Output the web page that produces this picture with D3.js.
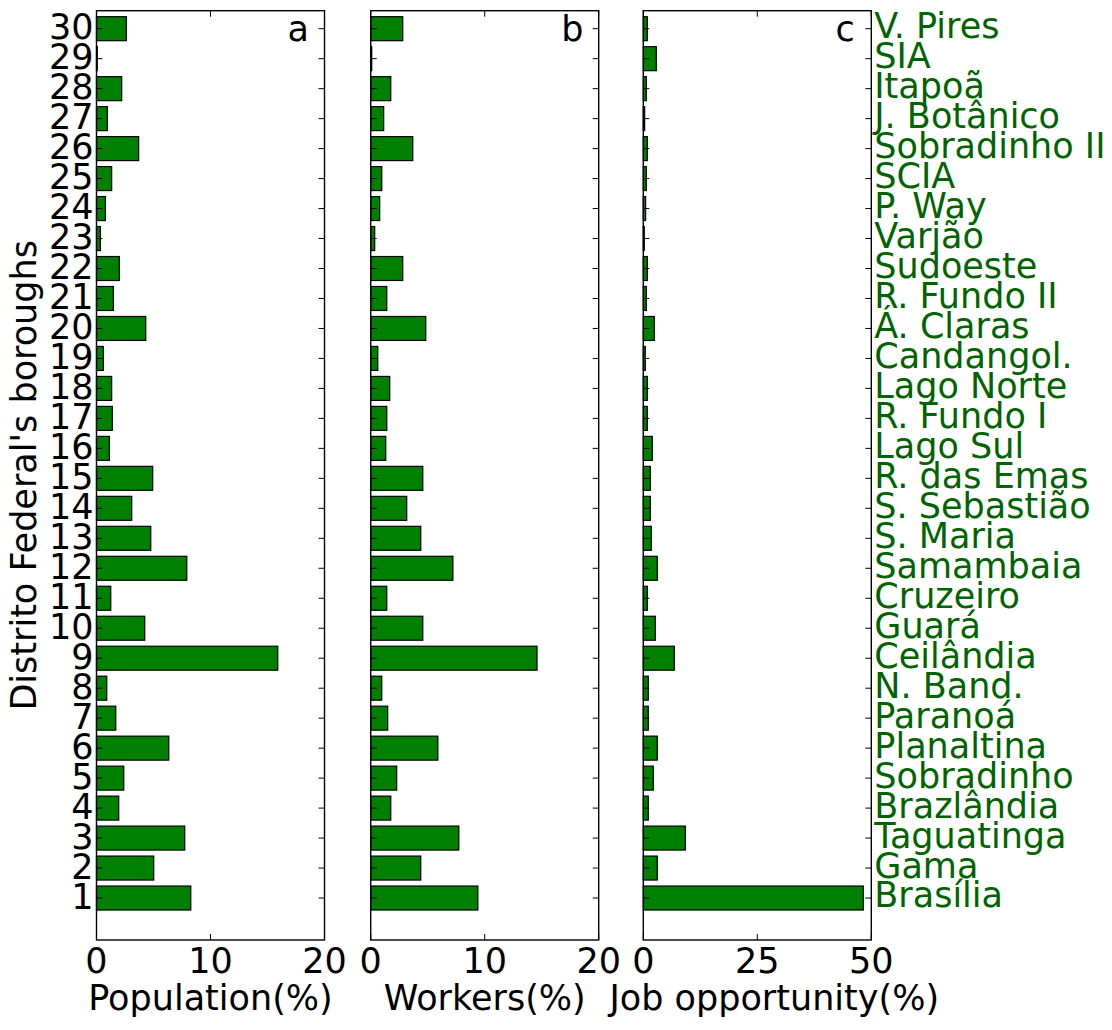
<!DOCTYPE html>
<html><head><meta charset="utf-8">
<script src="https://cdn.jsdelivr.net/npm/d3@7"></script>
<style>body{margin:0;background:#fff}svg{display:block}text{font-family:"DejaVu Sans",sans-serif}</style>
</head><body><svg id="c" width="1112" height="1030"></svg>
<script>
const boroughIds = d3.range(1, 31);
const boroughNames = ["Brasília","Gama","Taguatinga","Brazlândia","Sobradinho","Planaltina","Paranoá","N. Band.","Ceilândia","Guará","Cruzeiro","Samambaia","S. Maria","S. Sebastião","R. das Emas","Lago Sul","R. Fundo I","Lago Norte","Candangol.","Á. Claras","R. Fundo II","Sudoeste","Varjão","P. Way","SCIA","Sobradinho II","J. Botânico","Itapoã","SIA","V. Pires"];
const population = [8.27,5.02,7.74,1.95,2.39,6.34,1.69,0.9,15.9,4.23,1.25,7.92,4.76,3.09,4.93,1.13,1.39,1.33,0.6,4.32,1.48,2.0,0.34,0.78,1.33,3.7,0.95,2.21,0.07,2.62];
const workers = [9.4,4.39,7.73,1.76,2.28,5.89,1.49,0.97,14.59,4.57,1.41,7.21,4.39,3.16,4.57,1.32,1.41,1.67,0.62,4.83,1.41,2.81,0.35,0.79,0.97,3.69,1.14,1.76,0.09,2.81];
const jobs = [48.25,3.07,9.21,1.1,2.19,3.07,1.1,1.1,6.8,2.63,0.88,3.07,1.75,1.54,1.54,1.97,0.88,0.88,0.44,2.41,0.66,0.88,0.22,0.51,0.66,0.88,0.3,0.66,2.85,0.88];
const panelLetters = ["a","b","c"];
const xLabels = ["Population(%)","Workers(%)","Job opportunity(%)"];
const xMax = [20, 20, 50];
const xTicks = [[0,10,20],[0,10,20],[0,25,50]];
const yLabel = "Distrito Federal's boroughs";
const series = [population, workers, jobs];

(function(){
const svg = d3.select("#c");
const plotTop = 10.7, plotBottom = 940;
const panelLeft = [96.5, 370.7, 643.3];
const panelW = 228;
const labelShift = [0, 0, 17];
const y = d3.scaleLinear().domain([-0.4, 30.6]).range([plotBottom, plotTop]);
const barH = Math.abs(y(0.8) - y(0));
const FS = 35;

series.forEach((vals, p) => {
  const x = d3.scaleLinear().domain([0, xMax[p]]).range([panelLeft[p], panelLeft[p] + panelW]);
  const g = svg.append("g");
  g.selectAll("rect.bar").data(boroughIds).join("rect")
    .attr("class","bar")
    .attr("x", x(0))
    .attr("y", d => y(d) - barH/2)
    .attr("width", d => Math.max(0, x(vals[d-1]) - x(0)))
    .attr("height", barH)
    .attr("fill", "#008000")
    .attr("stroke", "#000")
    .attr("stroke-width", 1.2);

  const tl = 6;
  const ticks = g.append("g").attr("stroke","#000").attr("stroke-width",1);
  boroughIds.forEach(d => {
    ticks.append("line").attr("x1", x(0)).attr("x2", x(0)+tl).attr("y1", y(d)).attr("y2", y(d));
    ticks.append("line").attr("x1", x(xMax[p])).attr("x2", x(xMax[p])-tl).attr("y1", y(d)).attr("y2", y(d));
  });
  xTicks[p].forEach(t => {
    ticks.append("line").attr("x1", x(t)).attr("x2", x(t)).attr("y1", plotBottom).attr("y2", plotBottom - tl);
    ticks.append("line").attr("x1", x(t)).attr("x2", x(t)).attr("y1", plotTop).attr("y2", plotTop + tl);
  });
  g.append("rect").attr("x", x(0)).attr("y", plotTop).attr("width", panelW).attr("height", plotBottom - plotTop)
    .attr("fill","none").attr("stroke","#000").attr("stroke-width",1.4);

  g.selectAll("text.xt").data(xTicks[p]).join("text").attr("class","xt")
    .attr("x", d => x(d)).attr("y", 973).attr("text-anchor","middle")
    .attr("font-size", FS).text(d => d);
  g.append("text").attr("x", x(xMax[p]/2) + labelShift[p]).attr("y", 1010).attr("text-anchor","middle")
    .attr("font-size", FS).text(xLabels[p]);
  g.append("text").attr("x", panelLeft[p] + panelW*0.885).attr("y", 40.7).attr("text-anchor","middle")
    .attr("font-size", FS).text(panelLetters[p]);

  if (p === 0) {
    g.selectAll("text.yt").data(boroughIds).join("text").attr("class","yt")
      .attr("x", x(0) - 3).attr("y", d => y(d)).attr("dy","0.3em").attr("text-anchor","end")
      .attr("font-size", FS).text(d => d);
    g.append("text").attr("transform", `translate(36,${(plotTop+plotBottom)/2}) rotate(-90)`)
      .attr("text-anchor","middle").attr("font-size", FS).text(yLabel);
  }
  if (p === 2) {
    g.selectAll("text.nm").data(boroughIds).join("text").attr("class","nm")
      .attr("x", x(xMax[p]) + 3).attr("y", d => y(d)).attr("dy","0.27em").attr("text-anchor","start")
      .attr("fill","#006400").attr("font-size", FS).text(d => boroughNames[d-1]);
  }
});
})();
</script></body></html>
